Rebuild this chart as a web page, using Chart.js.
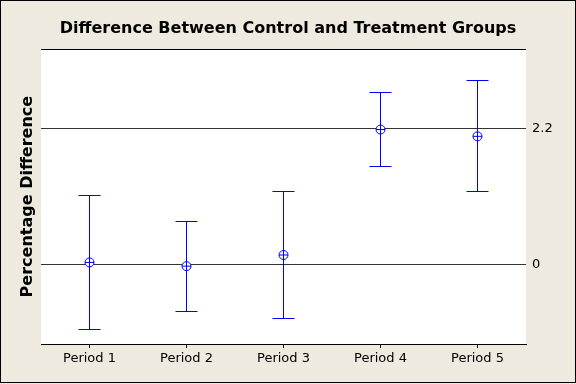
<!DOCTYPE html>
<html>
<head>
<meta charset="utf-8">
<script src="https://cdn.jsdelivr.net/npm/chart.js@4"></script>
<style>
	html, body { margin: 0; padding: 0; background: #eeeae0; }
	canvas { display: block; }
</style>
</head>
<body>
<canvas id="myChart" width="576" height="384"></canvas>
<script>
// data
var periods = ['Period 1', 'Period 2', 'Period 3', 'Period 4', 'Period 5'];
var means = [0.03, -0.03, 0.15, 2.18, 2.07];
var upper = [1.12, 0.70, 1.18, 2.78, 2.98];
var lower = [-1.05, -0.76, -0.87, 1.59, 1.18];
var refTicks = [0, 2.2];
var yMin = -1.29;
var yMax = 3.48;

var bg = '#eeeae0';
var fontFamily = 'DejaVu Sans';

// background, white plot area, error bars and frame
const framePlugin = {
	id: 'frame',
	beforeDraw(chart) {
		const ctx = chart.ctx, a = chart.chartArea;
		ctx.save();
		ctx.fillStyle = bg;
		ctx.fillRect(0, 0, chart.width, chart.height);
		ctx.fillStyle = '#ffffff';
		ctx.fillRect(a.left, a.top, a.right - a.left, a.bottom - a.top);
		ctx.restore();
	},
	beforeDatasetsDraw(chart) {
		const ctx = chart.ctx;
		const xs = chart.scales.x, ys = chart.scales.y;
		ctx.save();
		ctx.strokeStyle = '#0000ff';
		ctx.lineWidth = 1;
		for (let i = 0; i < periods.length; i++) {
			const px = Math.floor(xs.getPixelForValue(i)) + 0.5;
			const top = Math.round(ys.getPixelForValue(upper[i])) + 0.5;
			const bot = Math.round(ys.getPixelForValue(lower[i])) + 0.5;
			ctx.beginPath();
			ctx.moveTo(px, top);
			ctx.lineTo(px, bot);
			ctx.moveTo(px - 11, top);
			ctx.lineTo(px + 11, top);
			ctx.moveTo(px - 11, bot);
			ctx.lineTo(px + 11, bot);
			ctx.stroke();
		}
		ctx.restore();
	},
	afterDraw(chart) {
		const ctx = chart.ctx, a = chart.chartArea;
		ctx.save();
		ctx.strokeStyle = '#000000';
		ctx.lineWidth = 1;
		ctx.beginPath();
		ctx.moveTo(a.left, Math.round(a.top) + 0.5);
		ctx.lineTo(a.right, Math.round(a.top) + 0.5);
		ctx.stroke();
		ctx.strokeRect(0.5, 0.5, chart.width - 1, chart.height - 2);
		ctx.restore();
	}
};

const ctx = document.getElementById('myChart');
const myChart = new Chart(ctx, {
	type: 'line',
	data: {
		labels: periods,
		datasets: [{
			// cross on top of the circle
			data: means,
			showLine: false,
			pointStyle: 'cross',
			pointRadius: 4.5,
			pointBorderWidth: 1,
			pointBorderColor: '#0000ff'
		}, {
			data: means,
			showLine: false,
			pointStyle: 'circle',
			pointRadius: 4.5,
			pointBorderWidth: 1,
			pointBorderColor: '#0000ff',
			pointBackgroundColor: '#ffffff'
		}]
	},
	options: {
		responsive: false,
		animation: false,
		events: [],
		layout: { padding: 0 },
		plugins: {
			legend: { display: false },
			tooltip: { enabled: false },
			title: {
				display: true,
				text: 'Difference Between Control and Treatment Groups',
				color: '#000000',
				font: { family: fontFamily, size: 16, weight: 'bold' },
				padding: { top: 19, bottom: 11 }
			}
		},
		scales: {
			x: {
				type: 'category',
				offset: true,
				grid: { drawOnChartArea: false, drawTicks: true, tickLength: 4, color: '#000000' },
				border: { display: true, color: '#000000' },
				ticks: { color: '#000000', padding: 3, maxRotation: 0, font: { family: fontFamily, size: 13 } },
				afterFit(s) { s.height = 40; }
			},
			y: {
				position: 'right',
				min: yMin,
				max: yMax,
				afterBuildTicks(s) { s.ticks = refTicks.map(v => ({ value: v })); },
				grid: { color: '#333333', drawTicks: false },
				border: { display: false },
				ticks: { color: '#000000', padding: 6, font: { family: fontFamily, size: 13 } },
				afterFit(s) { s.width = 50; }
			},
			yL: {
				position: 'left',
				min: yMin,
				max: yMax,
				ticks: { display: false },
				grid: { display: false },
				border: { display: false },
				title: {
					display: true,
					text: 'Percentage Difference',
					color: '#000000',
					font: { family: fontFamily, size: 16, weight: 'bold' },
					padding: { top: 18, bottom: 0 }
				},
				afterFit(s) { s.width = 41; }
			}
		}
	},
	plugins: [framePlugin]
});
</script>
</body>
</html>
